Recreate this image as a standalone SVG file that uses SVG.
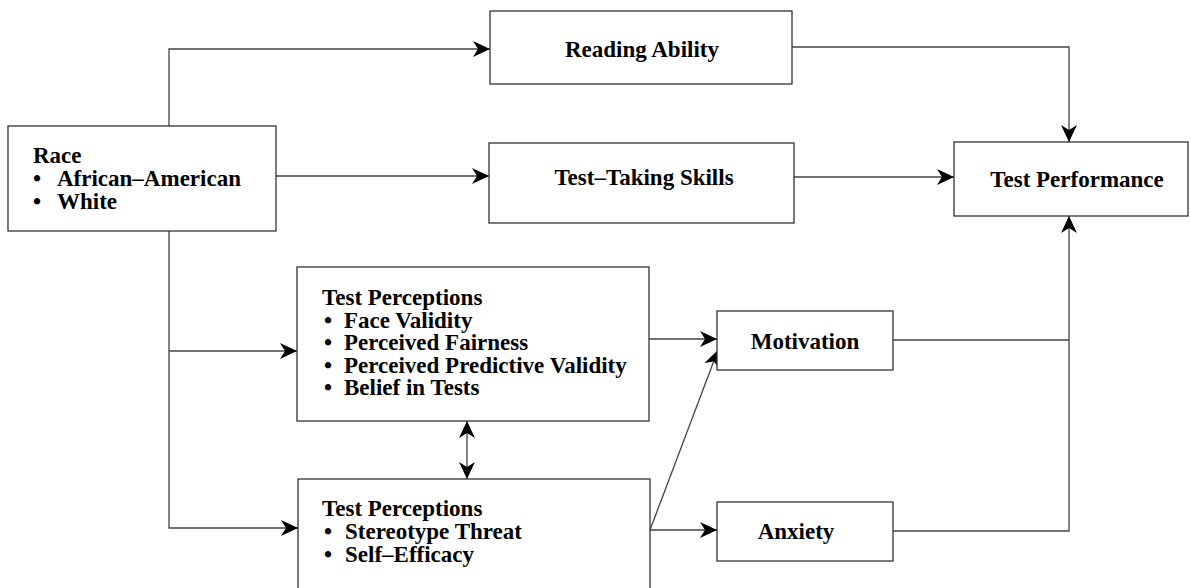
<svg xmlns="http://www.w3.org/2000/svg" width="1190" height="588" viewBox="0 0 1190 588">
<style>
.box{fill:#fff;stroke:#333;stroke-width:1.3}
.t{font-family:"Liberation Serif","Times New Roman",serif;font-weight:bold;font-size:23px;fill:#000}
.c{text-anchor:middle}
.ln{fill:none;stroke:#444;stroke-width:1.3}
</style>
<defs>
<marker id="ah" markerUnits="userSpaceOnUse" markerWidth="20" markerHeight="18" refX="17" refY="8" orient="auto-start-reverse">
<path d="M0,0 L17,8 L0,16 L5,8 z" fill="#000"/>
</marker>
</defs>
<rect width="1190" height="588" fill="#fff"/>
<g id="connectors" class="ln">
<path d="M169,126 V49 H490" marker-end="url(#ah)"/>
<path d="M276,176 H489" marker-end="url(#ah)"/>
<path d="M169,231 V528 H298" marker-end="url(#ah)"/>
<path d="M169,351 H297" marker-end="url(#ah)"/>
<path d="M792,47 H1069 V142" marker-end="url(#ah)"/>
<path d="M794,177 H954" marker-end="url(#ah)"/>
<path d="M649,339 H717" marker-end="url(#ah)"/>
<path d="M650,530 L718,350" marker-end="url(#ah)"/>
<path d="M650,530 H717" marker-end="url(#ah)"/>
<path d="M893,340 H1069 V216" marker-end="url(#ah)"/>
<path d="M893,531 H1069 V340"/>
<path d="M467,421 V479" marker-start="url(#ah)" marker-end="url(#ah)"/>
</g>
<g id="race">
<rect class="box" x="8" y="126" width="268" height="105"/>
<text class="t" x="33" y="163">Race</text>
<text class="t" x="33" y="186">•</text><text class="t" x="57" y="186">African–American</text>
<text class="t" x="33" y="209">•</text><text class="t" x="57" y="209">White</text>
</g>
<g id="reading">
<rect class="box" x="490" y="11" width="302" height="73"/>
<text class="t c" x="642" y="57">Reading Ability</text>
</g>
<g id="tts">
<rect class="box" x="489" y="143" width="305" height="80"/>
<text class="t c" x="644" y="185">Test–Taking Skills</text>
</g>
<g id="perf">
<rect class="box" x="954" y="142" width="234" height="74"/>
<text class="t c" x="1077" y="187">Test Performance</text>
</g>
<g id="perc1">
<rect class="box" x="297" y="267" width="352" height="154"/>
<text class="t" x="322" y="305">Test Perceptions</text>
<text class="t" x="324" y="328">•</text><text class="t" x="344" y="328">Face Validity</text>
<text class="t" x="324" y="350">•</text><text class="t" x="344" y="350">Perceived Fairness</text>
<text class="t" x="324" y="373">•</text><text class="t" x="344" y="373">Perceived Predictive Validity</text>
<text class="t" x="324" y="395">•</text><text class="t" x="344" y="395">Belief in Tests</text>
</g>
<g id="perc2">
<rect class="box" x="298" y="479" width="352" height="130"/>
<text class="t" x="322" y="516">Test Perceptions</text>
<text class="t" x="324" y="539">•</text><text class="t" x="345" y="539">Stereotype Threat</text>
<text class="t" x="324" y="562">•</text><text class="t" x="345" y="562">Self–Efficacy</text>
</g>
<g id="motivation">
<rect class="box" x="717" y="311" width="176" height="59"/>
<text class="t c" x="805" y="349">Motivation</text>
</g>
<g id="anxiety">
<rect class="box" x="717" y="502" width="176" height="59"/>
<text class="t c" x="796" y="539">Anxiety</text>
</g>
</svg>
